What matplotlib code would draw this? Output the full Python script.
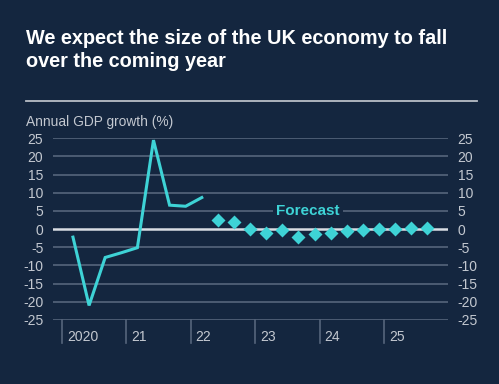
import numpy as np
import matplotlib.pyplot as plt

# quarterly annualised GDP growth, Q1 2020 onwards
actual_q = np.arange(0, 9)
actual = [-2.2, -21.0, -7.8, -6.5, -5.1, 24.5, 6.6, 6.3, 8.7]

forecast_q = np.arange(9, 23)
forecast = [2.6, 2.1, 0.1, -1.1, -0.2, -2.2, -1.4, -1.1, -0.6, -0.1, 0.0, 0.1, 0.2, 0.3]

years = ["2020", "21", "22", "23", "24", "25"]
yticks = [25, 20, 15, 10, 5, 0, -5, -10, -15, -20, -25]

bg = "#14263f"
cyan = "#3ed3d6"
grid_c = "#56657c"
text_c = "#c3c8d0"

plt.rcParams['font.family'] = ['Liberation Sans', 'DejaVu Sans']

fig = plt.figure(figsize=(4.99, 3.84), dpi=100, facecolor=bg)
ax = fig.add_axes([0.1062, 0.1667, 0.7916, 0.4731])
ax.set_facecolor(bg)

ax.set_xlim(-1.24, 23.29)
ax.set_ylim(-25, 25)

for y in yticks:
    if y == 0:
        continue
    ax.axhline(y, color=grid_c, lw=1.2, zorder=1)
ax.axhline(0, color="#d9dde3", lw=1.8, zorder=2)

ax.plot(actual_q, actual, color=cyan, lw=2.2, zorder=3, solid_joinstyle="miter")
ax.plot(forecast_q, forecast, "D", color=cyan, ms=7.5, mec="none", zorder=4)

ax.text(14.6, 5, "Forecast", color=cyan, fontsize=11, fontweight="bold",
        ha="center", va="center", zorder=3,
        bbox=dict(facecolor=bg, edgecolor="none", pad=2.5))

for s in ax.spines.values():
    s.set_visible(False)
ax.set_xticks([])
ax.set_yticks(yticks)
ax.set_yticklabels([str(v) for v in yticks])
ax.tick_params(axis="y", length=0, pad=7, labelsize=10, labelcolor=text_c,
               left=True, right=True, labelleft=True, labelright=True)

# year boundaries below the axis
for k, lab in enumerate(years):
    xb = 4 * k - 0.68
    ax.plot([xb, xb], [-25, -31.2], color=grid_c, lw=1.2, clip_on=False, zorder=1)
    ax.annotate(lab, (xb, -25), xytext=(3.5, -12.5), textcoords="offset points",
                ha="left", va="center", color=text_c, fontsize=10,
                annotation_clip=False)

fig.text(26 / 499, 1 - 50 / 384, "We expect the size of the UK economy to fall\nover the coming year",
         color="white", fontsize=14.3, fontweight="bold", ha="left", va="center",
         linespacing=1.3)
fig.add_artist(plt.Line2D([26 / 499, 477 / 499], [1 - 101 / 384, 1 - 101 / 384],
                          color="#b9bec7", lw=1.3))
fig.text(26 / 499, 1 - 122 / 384, "Annual GDP growth (%)", color=text_c,
         fontsize=9.9, ha="left", va="center")

fig.savefig("out.png", dpi=100, facecolor=bg)
